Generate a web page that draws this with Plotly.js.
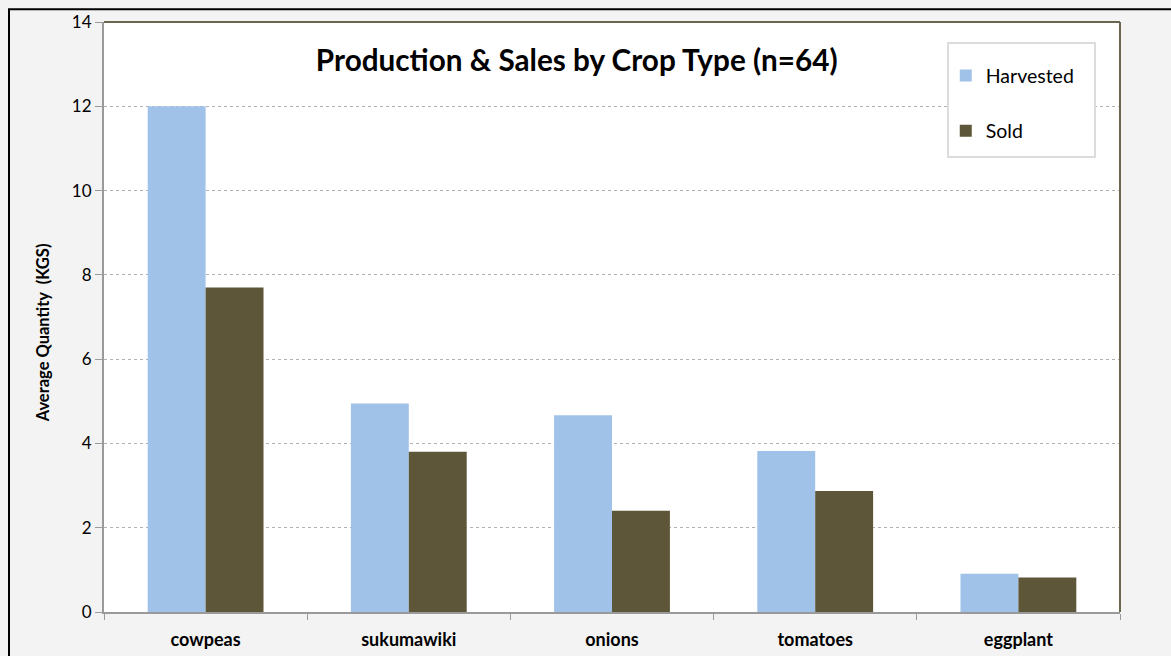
<!DOCTYPE html>
<html><head><meta charset="utf-8">
<script src="https://cdn.plot.ly/plotly-3.0.1.min.js"></script>
<style>body{margin:0;padding:0;background:#f3f3f3}#chart{width:1171px;height:656px}</style>
</head><body><div id="chart"></div>
<script>
var categories = ["cowpeas", "sukumawiki", "onions", "tomatoes", "eggplant"];
var harvested = [12.0, 4.95, 4.67, 3.82, 0.91];
var sold = [7.7, 3.8, 2.4, 2.87, 0.82];
var yTicks = [0, 2, 4, 6, 8, 10, 12, 14];

var font = "Lato, 'Open Sans', sans-serif";
var traces = [
  {type: "bar", name: "Harvested", x: categories, y: harvested, marker: {color: "#a0c2e8"}, legendgroup: "a"},
  {type: "bar", name: "Sold", x: categories, y: sold, marker: {color: "#5d5638"}, legendgroup: "b"}
];
var layout = {
  width: 1171, height: 656,
  paper_bgcolor: "#f3f3f3", plot_bgcolor: "#ffffff",
  margin: {l: 104, r: 51, t: 22, b: 44},
  barmode: "group", bargap: 0.43, bargroupgap: 0,
  font: {family: font, color: "#000"},
  title: {text: "<b>Production &amp; Sales by Crop Type (n=64)</b>", font: {size: 29.7, family: font, color: "#000"}, x: 0.4925, xanchor: "center", y: 0.908, yanchor: "middle"},
  xaxis: {
    showline: true, linecolor: "#9a9a9a", linewidth: 2,
    ticks: "outside", ticklen: 6, tickcolor: "#9a9a9a", tickson: "boundaries",
    tickfont: {size: 18, family: font, weight: "bold"}, ticklabelstandoff: 10
  },
  yaxis: {
    range: [0, 14], tickvals: yTicks, ticktext: yTicks.map(String),
    showline: true, linecolor: "#9a9a9a", linewidth: 2,
    ticks: "outside", ticklen: 7, tickcolor: "#9a9a9a",
    showgrid: true, gridcolor: "#b0b0b0", griddash: "dot", gridwidth: 1,
    zeroline: false, tickfont: {size: 17, family: font}
  },
  annotations: [
    {text: "<b>Average Quantity  (KGS)</b>", xref: "paper", yref: "paper", x: -0.0606, y: 0.473, xanchor: "center", yanchor: "middle", textangle: -90, showarrow: false, font: {size: 16.5, family: font}}
  ],
  legend: {
    x: 0.8285, y: 0.942, xanchor: "left", yanchor: "top",
    bgcolor: "rgba(0,0,0,0)", borderwidth: 0,
    font: {size: 19.5, family: font}, tracegroupgap: 27, itemwidth: 30,
    traceorder: "grouped"
  },
  shapes: [
    {type: "rect", xref: "paper", yref: "paper", x0: 0.8307, x1: 0.9754, y0: 0.771, y1: 0.9644, fillcolor: "#ffffff", line: {color: "#dcdcdc", width: 2}},
    {type: "line", xref: "paper", yref: "paper", x0: 0, x1: 1, y0: 1, y1: 1, line: {color: "#6b6650", width: 2}},
    {type: "line", xref: "paper", yref: "paper", x0: 1, x1: 1, y0: 0, y1: 1, line: {color: "#6b6650", width: 2}},
    {type: "rect", xref: "paper", yref: "paper", x0: -0.0935, x1: 1.2, y0: -0.2, y1: 1.0215, line: {color: "#000", width: 2}, layer: "below"}
  ]
};
Plotly.newPlot("chart", traces, layout, {displayModeBar: false});
</script></body></html>
